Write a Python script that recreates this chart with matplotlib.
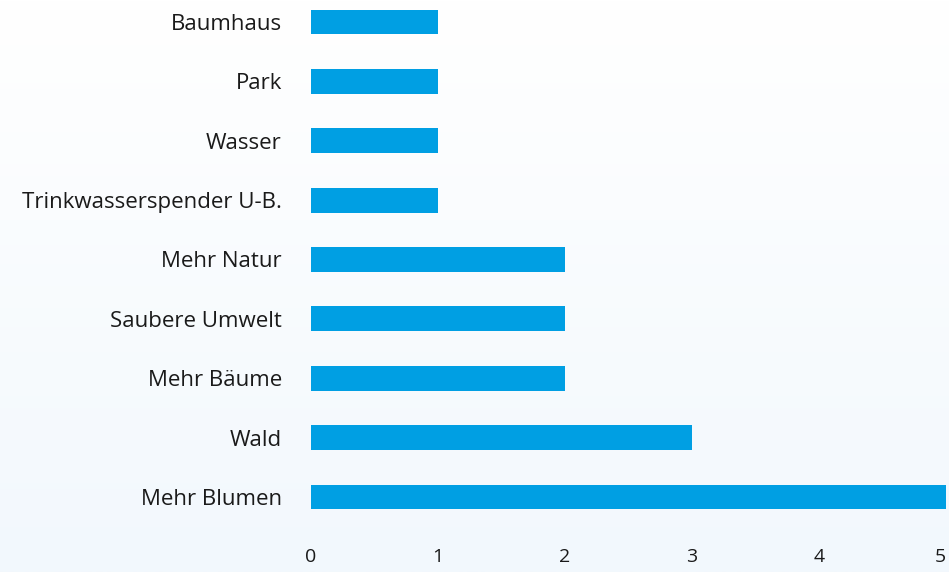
import numpy as np
import matplotlib
matplotlib.use("Agg")
from matplotlib import pyplot as plt
from matplotlib.colors import LinearSegmentedColormap

categories = ['Mehr Blumen', 'Wald', 'Mehr Bäume', 'Saubere Umwelt', 'Mehr Natur',
              'Trinkwasserspender U-B.', 'Wasser', 'Park', 'Baumhaus']
counts = [5, 3, 2, 2, 2, 1, 1, 1, 1]
ticks = [0, 1, 2, 3, 4, 5]

plt.rcParams['font.family'] = ['Open Sans', 'DejaVu Sans']

W, H = 949, 572
fig = plt.figure(figsize=(W / 100, H / 100), dpi=100)

# soft white-to-light-blue background
bg = fig.add_axes([0, 0, 1, 1], zorder=0)
cmap = LinearSegmentedColormap.from_list('bg', ['#ffffff', '#f2f8fd'])
bg.imshow(np.linspace(0, 1, 256).reshape(-1, 1), aspect='auto', cmap=cmap,
          extent=[0, 1, 0, 1], origin='upper')
bg.axis('off')

ax = fig.add_axes([311 / W, (H - 530) / H, 635 / W, 530 / H], zorder=1)
ax.patch.set_alpha(0)
y = np.arange(len(categories))
ax.barh(y, counts, height=0.42, color='#009fe3')
ax.set_xlim(0, 5)
ax.set_ylim(-0.556, 8.37)
ax.set_yticks(y)
ax.set_yticklabels(categories, fontsize=16, color='#1a1a1a')
ax.set_xticks(ticks)
ax.set_xticklabels([str(t) for t in ticks], fontsize=14, color='#1a1a1a')
ax.get_xticklabels()[-1].set_ha('right')
ax.tick_params(axis='y', length=0, pad=21)
ax.tick_params(axis='x', length=0, pad=13)
for s in ax.spines.values():
    s.set_visible(False)

fig.savefig('out.png', dpi=100)
